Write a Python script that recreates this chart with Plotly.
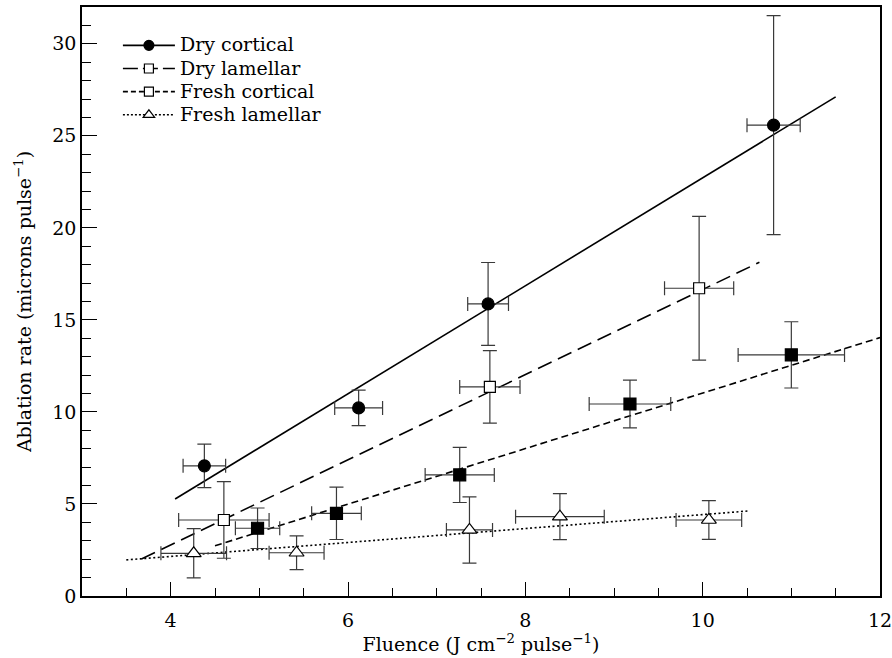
import plotly.graph_objects as go

# ---- data ----
dc_x = [4.38, 6.12, 7.58, 10.80]
dc_y = [7.07, 10.22, 15.87, 25.58]
dc_xerr = [0.24, 0.27, 0.23, 0.30]
dc_yerr = [1.18, 0.96, 2.25, 5.95]
dc_fit_x = [4.05, 11.50]
dc_fit_y = [5.27, 27.12]

dl_x = [4.60, 7.60, 9.96]
dl_y = [4.13, 11.36, 16.72]
dl_xerr = [0.51, 0.34, 0.39]
dl_yerr = [2.08, 1.97, 3.90]
dl_fit_x = [3.67, 10.64]
dl_fit_y = [2.01, 18.13]

fc_x = [4.98, 5.87, 7.26, 9.18, 11.00]
fc_y = [3.68, 4.49, 6.58, 10.43, 13.10]
fc_xerr = [0.25, 0.28, 0.39, 0.46, 0.60]
fc_yerr = [1.10, 1.42, 1.50, 1.30, 1.80]
fc_fit_x = [4.50, 12.00]
fc_fit_y = [2.73, 14.04]

fl_x = [4.26, 5.42, 7.37, 8.39, 10.07]
fl_y = [2.32, 2.35, 3.59, 4.31, 4.13]
fl_xerr = [0.37, 0.31, 0.26, 0.50, 0.37]
fl_yerr = [1.34, 0.92, 1.80, 1.25, 1.05]
fl_fit_x = [3.50, 10.52]
fl_fit_y = [1.96, 4.62]

legend_names = ["Dry cortical", "Dry lamellar", "Fresh cortical", "Fresh lamellar"]

FONT = "DejaVu Serif"
ERR_COLOR = "#3a3a3a"

fig = go.Figure()

def add_fit(x, y, dash, width=1.6):
    fig.add_trace(go.Scatter(x=x, y=y, mode="lines", showlegend=False,
                             line=dict(color="black", width=width, dash=dash),
                             hoverinfo="skip"))

def add_points(x, y, xe, ye, symbol, size, fill, cap=7):
    fig.add_trace(go.Scatter(
        x=x, y=y, mode="markers", showlegend=False,
        marker=dict(symbol=symbol, size=size, color=fill,
                    line=dict(color="black", width=1.2)),
        error_x=dict(type="data", array=xe, visible=True, color=ERR_COLOR,
                     thickness=1.2, width=cap),
        error_y=dict(type="data", array=ye, visible=True, color=ERR_COLOR,
                     thickness=1.2, width=cap),
    ))

add_fit(dc_fit_x, dc_fit_y, "solid")
add_fit(dl_fit_x, dl_fit_y, "15px,7px")
add_fit(fc_fit_x, fc_fit_y, "7px,4px")
add_fit(fl_fit_x, fl_fit_y, "2px,2.5px")

add_points(fl_x, fl_y, fl_xerr, fl_yerr, "triangle-up", 13, "white")
add_points(fc_x, fc_y, fc_xerr, fc_yerr, "square", 12, "black")
add_points(dl_x, dl_y, dl_xerr, dl_yerr, "square", 11, "white")
add_points(dc_x, dc_y, dc_xerr, dc_yerr, "circle", 12, "black")

# legend-only entries
leg_styles = [
    ("solid", "circle", "black", 10),
    ("15px,5px", "square", "white", 9),
    ("5px,3px", "square", "white", 9),
    ("2px,2px", "triangle-up", "white", 10),
]
for name, (dash, sym, fill, sz) in zip(legend_names, leg_styles):
    fig.add_trace(go.Scatter(
        x=[None], y=[None], mode="lines+markers",
        name='<span style="font-size:19px">' + name + '</span>',
        line=dict(color="black", width=1.6, dash=dash),
        marker=dict(symbol=sym, size=sz, color=fill, line=dict(color="black", width=1.2)),
    ))

axis_common = dict(
    showgrid=False, zeroline=False, showline=True, linecolor="black", linewidth=1.5,
    mirror=True, ticks="inside", tickcolor="black", tickwidth=1.2,
    tickfont=dict(family=FONT, size=19, color="black"),
    ticklabeloverflow="allow", automargin=False,
)

fig.update_xaxes(range=[3, 12], dtick=2, tick0=0, ticklen=14, ticklabelstandoff=6,
                 minor=dict(dtick=0.5, ticks="inside", ticklen=8, tickcolor="black", tickwidth=1),
                 title=dict(text="Fluence (J cm<sup>−2</sup> pulse<sup>−1</sup>)",
                            font=dict(family=FONT, size=19, color="black"), standoff=1),
                 **axis_common)
fig.update_yaxes(range=[0, 32], dtick=5, tick0=0, ticklen=15,
                 minor=dict(dtick=1, ticks="inside", ticklen=9, tickcolor="black", tickwidth=1),
                 title=dict(text="Ablation rate (microns pulse<sup>−1</sup>)",
                            font=dict(family=FONT, size=19, color="black"), standoff=16),
                 **axis_common)

fig.update_layout(
    width=892, height=658,
    margin=dict(l=82, r=12, t=7, b=62),
    plot_bgcolor="white", paper_bgcolor="white",
    font=dict(family=FONT, size=19, color="black"),
    legend=dict(x=0.045, y=0.963, xanchor="left", yanchor="top",
                bgcolor="rgba(0,0,0,0)", borderwidth=0, itemwidth=52,
                font=dict(family=FONT, size=15.5, color="black"), tracegroupgap=0),
    showlegend=True,
)

fig.write_html("out.html")
